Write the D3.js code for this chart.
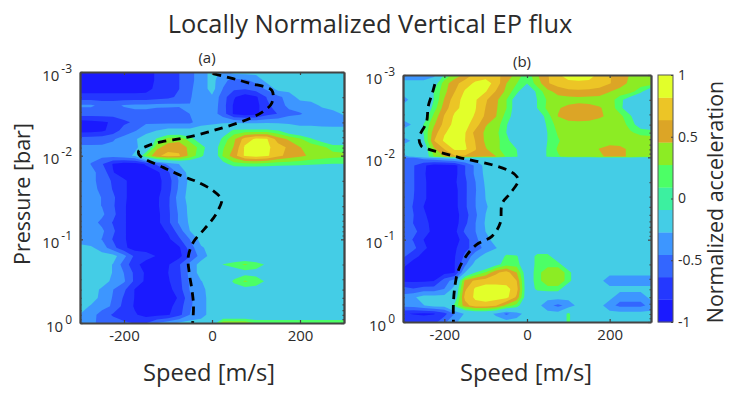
<!DOCTYPE html>
<html lang="en">
<meta charset="utf-8">
<style>
  body { margin: 0; background: #fff; }
  text { font-family: "Open Sans", sans-serif; fill: #2b2b2b; }
</style>
<body>
<div id="my_dataviz"></div>

<script src="https://d3js.org/d3.v7.min.js"></script>
<script>

// grid columns (speed in m/s), shared by both panels
var speedCols = [-300,-275,-250,-225,-200,-175,-150,-125,-100,-75,-50,-25,0,25,50,75,100,125,150,175,200,225,250,275,300];

// grid rows of panel (a), log10 of pressure in bar
var logRowsA = [-3,-2.9,-2.8,-2.7,-2.6,-2.5,-2.4,-2.3,-2.2,-2.1,-2,-1.9,-1.8,-1.7,-1.6,-1.5,-1.4,-1.3,-1.2,-1.1,-1,-.9,-.8,-.7,-.6,-.5,-.4,-.3,-.2,-.1,0];

// normalized acceleration
var gridA = [
[-.9,-.9,-.9,-.9,-.9,-.9,-.9,-.79,-.7,-.64,-.5,-.38,-.2,-.32,-.2,-.2,-.2,-.2,-.2,-.2,-.2,-.2,-.2,-.2,-.2],
[-.9,-.9,-.9,-.9,-.9,-.9,-.9,-.79,-.7,-.64,-.5,-.38,-.2,-.42,-.5,-.48,-.4,-.2,-.2,-.2,-.2,-.2,-.2,-.2,-.2],
[-.9,-.9,-.9,-.9,-.9,-.9,-.88,-.77,-.7,-.64,-.48,-.38,-.2,-.46,-.6,-.62,-.55,-.42,-.2,-.2,-.2,-.2,-.2,-.2,-.2],
[-.75,-.75,-.75,-.75,-.75,-.75,-.75,-.72,-.68,-.6,-.47,-.36,-.3,-.55,-.8,-.92,-.85,-.62,-.5,-.38,-.2,-.2,-.2,-.2,-.2],
[-.43,-.43,-.5,-.5,-.44,-.42,-.42,-.4,-.4,-.42,-.45,-.35,-.33,-.56,-.85,-.92,-.88,-.68,-.52,-.42,-.38,-.33,-.25,-.2,-.2],
[-.55,-.55,-.55,-.55,-.52,-.5,-.5,-.6,-.62,-.6,-.45,-.38,-.36,-.55,-.85,-.92,-.87,-.7,-.63,-.5,-.47,-.4,-.35,-.33,-.25],
[-.9,-.88,-.84,-.8,-.68,-.6,-.48,-.5,-.5,-.5,-.5,-.33,-.3,-.3,-.32,-.33,-.33,-.32,-.32,-.32,-.33,-.33,-.35,-.36,-.36],
[-.9,-.88,-.85,-.75,-.55,-.47,-.36,-.27,-.2,-.2,-.2,-.2,-.2,-.1,.14,.16,.16,.15,.1,-.1,-.2,-.2,-.2,-.2,-.2],
[-.55,-.55,-.53,-.47,-.4,-.3,-.15,.12,.35,.38,.2,-.1,-.2,.15,.42,.72,.85,.83,.55,.42,.3,.12,-.05,-.2,-.2],
[-.42,-.42,-.42,-.42,-.38,-.3,-.2,.4,.55,.58,.4,.2,-.1,.25,.47,.85,.9,.86,.72,.6,.46,.4,.32,.2,.18],
[-.42,-.42,-.4,-.38,-.33,-.25,.3,.6,.7,.66,.4,.15,-.15,.3,.56,.85,.9,.85,.68,.58,.5,.42,.38,.34,.32],
[-.38,-.46,-.62,-.83,-.9,-.9,-.8,-.6,-.41,-.27,-.2,-.2,-.2,0,.2,.22,.22,.2,.17,.15,.14,.12,.1,.08,.08],
[-.38,-.42,-.5,-.81,-.9,-.9,-.9,-.86,-.67,-.4,-.2,-.2,-.2,-.2,-.2,-.2,-.2,-.2,-.2,-.2,-.2,-.2,-.2,-.2,-.2],
[-.38,-.42,-.5,-.67,-.79,-.9,-.9,-.88,-.73,-.44,-.22,-.2,-.2,-.2,-.2,-.2,-.2,-.2,-.2,-.2,-.2,-.2,-.2,-.2,-.2],
[-.38,-.42,-.48,-.65,-.79,-.9,-.9,-.88,-.72,-.42,-.2,-.2,-.2,-.2,-.2,-.2,-.2,-.2,-.2,-.2,-.2,-.2,-.2,-.2,-.2],
[-.38,-.4,-.46,-.6,-.79,-.9,-.9,-.85,-.68,-.37,-.2,-.2,-.2,-.2,-.2,-.2,-.2,-.2,-.2,-.2,-.2,-.2,-.2,-.2,-.2],
[-.38,-.4,-.46,-.61,-.8,-.9,-.9,-.85,-.67,-.4,-.22,-.2,-.2,-.2,-.2,-.2,-.2,-.2,-.2,-.2,-.2,-.2,-.2,-.2,-.2],
[-.38,-.4,-.42,-.58,-.8,-.9,-.9,-.87,-.68,-.43,-.22,-.2,-.2,-.2,-.2,-.2,-.2,-.2,-.2,-.2,-.2,-.2,-.2,-.2,-.2],
[-.38,-.38,-.5,-.65,-.8,-.9,-.9,-.87,-.68,-.43,-.24,-.2,-.2,-.2,-.2,-.2,-.2,-.2,-.2,-.2,-.2,-.2,-.2,-.2,-.2],
[-.38,-.4,-.42,-.6,-.8,-.9,-.9,-.9,-.79,-.55,-.27,-.2,-.2,-.2,-.2,-.2,-.2,-.2,-.2,-.2,-.2,-.2,-.2,-.2,-.2],
[-.38,-.4,-.46,-.65,-.8,-.9,-.9,-.9,-.86,-.67,-.45,-.2,-.2,-.2,-.2,-.2,-.2,-.2,-.2,-.2,-.2,-.2,-.2,-.2,-.2],
[-.2,-.24,-.36,-.57,-.78,-.9,-.9,-.9,-.9,-.85,-.55,-.3,-.2,-.2,-.2,-.2,-.2,-.2,-.2,-.2,-.2,-.2,-.2,-.2,-.2],
[-.2,-.2,-.2,-.2,-.4,-.68,-.74,-.83,-.9,-.88,-.64,-.37,-.2,-.2,-.2,-.2,-.2,-.2,-.2,-.2,-.2,-.2,-.2,-.2,-.2],
[-.2,-.2,-.2,-.28,-.54,-.76,-.9,-.9,-.84,-.66,-.39,-.2,-.2,.1,.2,.3,.2,.05,-.2,-.2,-.2,-.2,-.2,-.2,-.2],
[-.2,-.2,-.2,-.28,-.46,-.68,-.85,-.9,-.82,-.68,-.39,-.2,-.2,-.2,-.1,0,0,-.1,-.2,-.2,-.2,-.2,-.2,-.2,-.2],
[-.2,-.2,-.2,-.31,-.43,-.68,-.86,-.9,-.84,-.7,-.42,-.28,-.2,-.2,.15,.3,.2,.05,-.2,-.2,-.2,-.2,-.2,-.2,-.2],
[-.2,-.2,-.3,-.45,-.6,-.83,-.9,-.9,-.88,-.72,-.44,-.32,-.2,-.2,-.1,0,0,-.1,-.2,-.2,-.2,-.2,-.2,-.2,-.2],
[-.2,-.2,-.32,-.47,-.66,-.83,-.9,-.9,-.9,-.8,-.5,-.34,-.2,-.2,-.2,-.2,-.2,-.2,-.2,-.2,-.2,-.2,-.2,-.2,-.2],
[-.2,-.29,-.39,-.48,-.7,-.84,-.9,-.9,-.88,-.73,-.48,-.34,-.2,-.2,-.2,-.2,-.2,-.2,-.2,-.2,-.2,-.2,-.2,-.2,-.2],
[-.28,-.38,-.53,-.66,-.75,-.8,-.88,-.88,-.84,-.7,-.45,-.34,-.2,-.2,-.2,-.2,-.2,-.2,-.2,-.2,-.2,-.2,-.2,-.2,-.2],
[-.4,-.42,-.5,-.55,-.6,-.65,-.65,-.45,-.36,-.25,-.2,-.2,-.1,.4,.4,.4,.25,.25,.25,.25,.25,.25,.25,.25,.25]
];

// grid rows of panel (b), two rows close together at the sharp edge near 10^-2
var logRowsB = [-3,-2.9,-2.8,-2.7,-2.6,-2.5,-2.4,-2.3,-2.2,-2.1,-2.01,-1.99,-1.9,-1.8,-1.7,-1.6,-1.5,-1.4,-1.3,-1.2,-1.1,-1,-.9,-.8,-.7,-.6,-.5,-.4,-.3,-.2,-.1,0];

// normalized acceleration
var gridB = [
[-.4,-.4,-.4,-.35,.1,.35,.5,.7,.73,.7,.55,.4,.15,.44,.62,.8,.88,.9,.88,.78,.65,.55,.44,.4,.4],
[-.2,-.2,-.2,-.05,.37,.57,.73,.85,.9,.75,.46,.28,.1,.36,.62,.72,.78,.78,.78,.74,.65,.52,.42,.38,.38],
[-.2,-.2,-.2,.1,.4,.63,.84,.9,.83,.62,.41,.15,-.15,.15,.4,.52,.58,.6,.58,.55,.46,.4,.35,.15,-.15],
[-.35,-.2,-.2,.1,.47,.74,.88,.84,.66,.5,.28,-.05,-.2,.1,.3,.38,.38,.38,.38,.38,.38,.15,-.05,-.2,-.2],
[-.2,-.2,-.2,.18,.55,.77,.88,.83,.63,.48,.28,-.05,-.2,.1,.32,.44,.5,.55,.52,.47,.4,.15,-.1,-.2,-.2],
[-.2,-.2,-.1,.33,.65,.85,.9,.8,.6,.46,.2,-.05,-.2,-.1,.2,.46,.55,.58,.55,.48,.42,.33,.12,-.15,-.2],
[-.35,-.25,.1,.43,.7,.88,.88,.73,.47,.38,.12,-.2,-.2,-.2,.15,.35,.38,.38,.38,.38,.38,.38,.2,-.05,-.15],
[-.2,-.2,.1,.55,.8,.9,.83,.58,.42,.33,.09,-.2,-.2,-.2,.1,.3,.38,.38,.38,.38,.38,.38,.3,.22,.2],
[-.33,-.25,.05,.63,.85,.9,.82,.63,.42,.33,.17,-.1,-.2,-.2,.1,.25,.38,.38,.38,.38,.38,.38,.38,.38,.38],
[-.2,-.2,-.1,.42,.64,.85,.85,.65,.47,.33,.17,.09,-.2,-.1,.12,.3,.38,.38,.38,.46,.52,.5,.42,.38,.38],
[-.3,-.25,-.1,.28,.46,.6,.6,.55,.5,.46,.25,.12,-.2,-.1,.12,.25,.35,.35,.35,.42,.5,.5,.42,.38,.38],
[-.5,-.5,-.4,-.33,-.25,-.2,-.2,-.2,-.2,-.2,-.2,-.2,-.2,-.2,-.2,-.2,-.2,-.2,-.2,-.2,-.2,-.2,-.2,-.2,-.2],
[-.52,-.62,-.79,-.9,-.9,-.88,-.64,-.42,-.2,-.2,-.2,-.2,-.2,-.2,-.2,-.2,-.2,-.2,-.2,-.2,-.2,-.2,-.2,-.2,-.2],
[-.52,-.62,-.8,-.9,-.9,-.88,-.64,-.42,-.22,-.2,-.2,-.2,-.2,-.2,-.2,-.2,-.2,-.2,-.2,-.2,-.2,-.2,-.2,-.2,-.2],
[-.52,-.62,-.79,-.9,-.9,-.85,-.67,-.46,-.24,-.2,-.2,-.2,-.2,-.2,-.2,-.2,-.2,-.2,-.2,-.2,-.2,-.2,-.2,-.2,-.2],
[-.52,-.62,-.79,-.9,-.9,-.88,-.67,-.47,-.26,-.2,-.2,-.2,-.2,-.2,-.2,-.2,-.2,-.2,-.2,-.2,-.2,-.2,-.2,-.2,-.2],
[-.5,-.63,-.79,-.9,-.9,-.88,-.67,-.46,-.27,-.2,-.2,-.2,-.2,-.2,-.2,-.2,-.2,-.2,-.2,-.2,-.2,-.2,-.2,-.2,-.2],
[-.5,-.65,-.82,-.9,-.9,-.88,-.67,-.46,-.29,-.2,-.2,-.2,-.2,-.2,-.2,-.2,-.2,-.2,-.2,-.2,-.2,-.2,-.2,-.2,-.2],
[-.5,-.63,-.79,-.9,-.9,-.9,-.71,-.49,-.27,-.2,-.2,-.2,-.2,-.2,-.2,-.2,-.2,-.2,-.2,-.2,-.2,-.2,-.2,-.2,-.2],
[-.5,-.64,-.76,-.88,-.9,-.9,-.68,-.46,-.25,-.2,-.2,-.2,-.2,-.2,-.2,-.2,-.2,-.2,-.2,-.2,-.2,-.2,-.2,-.2,-.2],
[-.5,-.58,-.73,-.88,-.9,-.87,-.6,-.46,-.27,-.2,-.2,-.2,-.2,-.2,-.2,-.2,-.2,-.2,-.2,-.2,-.2,-.2,-.2,-.2,-.2],
[-.52,-.65,-.82,-.9,-.9,-.9,-.73,-.5,-.33,-.2,-.2,-.2,-.2,-.2,-.2,-.2,-.2,-.2,-.2,-.2,-.2,-.2,-.2,-.2,-.2],
[-.5,-.58,-.78,-.9,-.9,-.85,-.69,-.56,-.39,-.28,-.2,-.2,-.2,-.2,-.2,-.2,-.2,-.2,-.2,-.2,-.2,-.2,-.2,-.2,-.2],
[-.6,-.75,-.88,-.9,-.9,-.83,-.6,-.35,-.2,-.2,.15,.12,-.2,.2,.2,-.2,-.2,-.2,-.2,-.2,-.2,-.2,-.2,-.2,-.2],
[-.75,-.9,-.9,-.9,-.9,-.82,-.5,-.2,-.2,0,.2,.2,-.2,.2,.2,.2,-.2,-.2,-.2,-.2,-.2,-.2,-.2,-.2,-.2],
[-.9,-.9,-.9,-.9,-.87,-.82,-.27,.09,.3,.6,.72,.46,-.1,.2,.4,.4,.2,-.2,-.2,-.2,-.2,-.2,-.2,-.2,-.2],
[-.85,-.85,-.85,-.82,-.55,-.36,.5,.68,.75,.75,.75,.64,-.1,.2,.4,.4,.2,-.2,-.2,-.2,-.4,-.4,-.4,-.4,-.4],
[-.55,-.62,-.55,-.55,-.45,-.2,.6,.85,.9,.9,.88,.72,-.1,.15,.2,.2,-.2,-.2,-.2,-.2,-.2,-.2,-.2,-.2,-.2],
[-.4,-.3,-.2,-.2,-.2,-.1,.7,.85,.9,.9,.88,.6,-.1,-.2,-.2,-.2,-.2,-.2,-.2,-.2,-.2,-.4,-.4,-.4,-.2],
[-.4,-.38,-.28,-.2,-.2,.15,.55,.75,.75,.65,.4,.2,-.2,-.2,-.4,-.5,-.4,-.2,-.2,-.2,-.4,-.5,-.5,-.5,-.4],
[-.8,-.83,-.85,-.83,-.7,-.45,-.25,-.2,-.2,-.3,-.5,-.35,-.2,-.2,-.2,-.2,.15,-.2,-.2,-.2,-.2,-.2,-.2,-.2,-.2],
[-.7,-.7,-.7,-.7,-.5,-.3,-.2,-.2,-.2,-.2,-.2,-.2,-.2,-.2,-.2,-.2,.15,-.2,-.2,-.2,-.2,-.2,-.2,-.2,-.2]
];

// dashed profiles: speed in m/s and log10 pressure
var dashSpeedA = [2,48,86,136,136,117,79,3,-65,-111,-145,-167,-164,-111,-65,-35,3,22,22,8,-16,-42,-54,-52,-46,-42,-44];
var dashLogA = [-2.98,-2.92,-2.865,-2.78,-2.63,-2.53,-2.43,-2.3,-2.21,-2.17,-2.12,-2.05,-2,-1.86,-1.75,-1.69,-1.58,-1.48,-1.45,-1.29,-1.13,-.97,-.79,-.61,-.41,-.21,0];
var dashSpeedB = [-223,-229,-239,-243,-261,-256,-239,-210,-166,-130,-85,-49,-29,-21,-41,-60,-65,-85,-122,-146,-166,-174,-178,-178];
var dashLogB = [-2.89,-2.78,-2.62,-2.43,-2.24,-2.14,-2.1,-2.06,-2,-1.96,-1.91,-1.85,-1.79,-1.72,-1.56,-1.44,-1.2,-1.04,-.94,-.81,-.63,-.45,-.23,0];

// colour levels of the bar, from -1 to 1
var levelEdges = [-1,-.818,-.636,-.455,-.273,-.091,.091,.273,.455,.636,.818,1];
var levelColors = ["#1a1aff","#2438ff","#3366ff","#3d96ff","#44cde6","#3cf0a0","#4cff66","#8cec24","#dca526","#ecc526","#e2ff2a"];
// the sea-green level never shows up in the contour panels
var panelSkip = [5];

var xTicks = [-200,0,200];
var yMajor = [0.001,0.01,0.1,1];
var yExp = ["-3","-2","-1","0"];
var barTicks = [-1,-0.5,0,0.5,1];

var svg = d3.select("#my_dataviz").append("svg")
  .attr("width", 748)
  .attr("height", 396)
  .style("display", "block");

// minor ticks of a log axis
var yMinor = [];
yMajor.slice(0, 3).forEach(function(m) {
  [2,3,4,5,6,7,8,9].forEach(function(k) { yMinor.push(m * k); });
});

function drawPanel(box, grid, logRows, dashSpeed, dashLog) {
  var x = d3.scaleLinear().domain([-300, 300]).range([box.left, box.right]);
  var y = d3.scaleLog().domain([0.001, 1]).range([box.top, box.bottom]);

  var n = speedCols.length, m = logRows.length;
  var colToSpeed = d3.scaleLinear().domain(d3.range(n)).range(speedCols).clamp(true);
  var rowToLog = d3.scaleLinear().domain(d3.range(m)).range(logRows).clamp(true);

  // contour grid units back to data, then through the chart scales
  var path = d3.geoPath(d3.geoTransform({
    point: function(cx, cy) {
      this.stream.point(x(colToSpeed(cx - 0.5)), y(Math.pow(10, rowToLog(cy - 0.5))));
    }
  }));

  var g = svg.append("g");
  var fills = g.append("g").style("filter", "blur(0.45px)");

  fills.append("rect")
    .attr("x", box.left).attr("y", box.top)
    .attr("width", box.right - box.left).attr("height", box.bottom - box.top)
    .style("fill", levelColors[0]);

  levelColors.forEach(function(color, i) {
    if (i === 0 || panelSkip.indexOf(i) >= 0) return;
    var shape = d3.contours().size([n, m]).thresholds([levelEdges[i]])(grid.flat())[0];
    fills.append("path").attr("d", path(shape)).style("fill", color);
  });

  // dashed line
  var line = d3.line()
    .x(function(d, i) { return x(dashSpeed[i]); })
    .y(function(d, i) { return y(Math.pow(10, dashLog[i])); })
    .curve(d3.curveCatmullRom);
  g.append("path")
    .attr("d", line(dashSpeed))
    .style("fill", "none")
    .style("stroke", "#000")
    .style("stroke-width", 2.8)
    .style("stroke-dasharray", "8.5,6");

  // axes
  var bottom = g.append("g").attr("class", "axis")
    .attr("transform", "translate(0," + box.bottom + ")")
    .call(d3.axisBottom(x).tickValues(xTicks).tickSizeInner(-3).tickSizeOuter(0).tickPadding(7).tickFormat(String));
  g.append("g").attr("class", "axis")
    .attr("transform", "translate(0," + box.top + ")")
    .call(d3.axisTop(x).tickValues(xTicks).tickSizeInner(-3).tickSizeOuter(0).tickFormat(""));
  var left = g.append("g").attr("class", "axis")
    .attr("transform", "translate(" + box.left + ",0)")
    .call(d3.axisLeft(y).tickValues(yMajor).tickSizeInner(-3).tickSizeOuter(0).tickPadding(8).tickFormat(""));
  g.append("g").attr("class", "axis")
    .attr("transform", "translate(" + box.left + ",0)")
    .call(d3.axisLeft(y).tickValues(yMinor).tickSizeInner(-1.5).tickSizeOuter(0).tickFormat(""));
  g.append("g").attr("class", "axis")
    .attr("transform", "translate(" + box.right + ",0)")
    .call(d3.axisRight(y).tickValues(yMajor).tickSizeInner(-3).tickSizeOuter(0).tickFormat(""));
  g.append("g").attr("class", "axis")
    .attr("transform", "translate(" + box.right + ",0)")
    .call(d3.axisRight(y).tickValues(yMinor).tickSizeInner(-1.5).tickSizeOuter(0).tickFormat(""));

  // 10 with a raised exponent
  left.selectAll(".tick text").each(function(d, i) {
    var t = d3.select(this).attr("dy", "8px");
    t.append("tspan").text("10").style("font-size", "15px");
    t.append("tspan").text("\u2009" + yExp[i]).attr("dy", "-8px").style("font-size", "12px");
  });

  bottom.selectAll("text").style("font-size", "15px");
  return g;
}

drawPanel({left: 80, right: 344, top: 72, bottom: 323}, gridA, logRowsA, dashSpeedA, dashLogA);
drawPanel({left: 403, right: 651, top: 75, bottom: 322}, gridB, logRowsB, dashSpeedB, dashLogB);

svg.selectAll(".axis path.domain").style("stroke", "#444").style("stroke-width", 1.8);
svg.selectAll(".axis line").style("stroke", "#444").style("stroke-width", 1.2);

// colour bar
var barScale = d3.scaleLinear().domain([-1, 1]).range([322, 75]);
var bar = svg.append("g");
bar.selectAll("rect")
  .data(levelColors)
  .enter()
  .append("rect")
  .attr("x", 658)
  .attr("width", 15)
  .attr("y", function(d, i) { return barScale(levelEdges[i + 1]); })
  .attr("height", function(d, i) { return barScale(levelEdges[i]) - barScale(levelEdges[i + 1]) + 0.3; })
  .style("fill", function(d) { return d; });
bar.append("rect")
  .attr("x", 658).attr("y", 75).attr("width", 15).attr("height", 247)
  .style("fill", "none").style("stroke", "#555").style("stroke-width", 1);
var barAxis = bar.append("g")
  .attr("transform", "translate(673,0)")
  .call(d3.axisRight(barScale).tickValues(barTicks).tickSizeInner(-2).tickSizeOuter(0).tickPadding(5).tickFormat(String));
barAxis.select("path.domain").remove();
barAxis.selectAll("line").style("stroke", "#444");
barAxis.selectAll("text").style("font-size", "14px");

// labels
function label(str, px, py, size, rotate) {
  var t = svg.append("text").text(str)
    .attr("text-anchor", "middle")
    .style("font-size", size + "px");
  t.attr("transform", "translate(" + px + "," + py + ")" + (rotate ? " rotate(-90)" : ""));
}
label("Locally Normalized Vertical EP flux", 370, 33, 25.4);
label("(a)", 207, 63, 15);
label("(b)", 522, 67, 15);
label("Speed [m/s]", 209, 381, 23.7);
label("Speed [m/s]", 526, 381, 23.7);
label("Pressure [bar]", 30, 194, 21.5, true);
label("Normalized acceleration", 723, 202, 21.4, true);

</script>
</body>
</html>
